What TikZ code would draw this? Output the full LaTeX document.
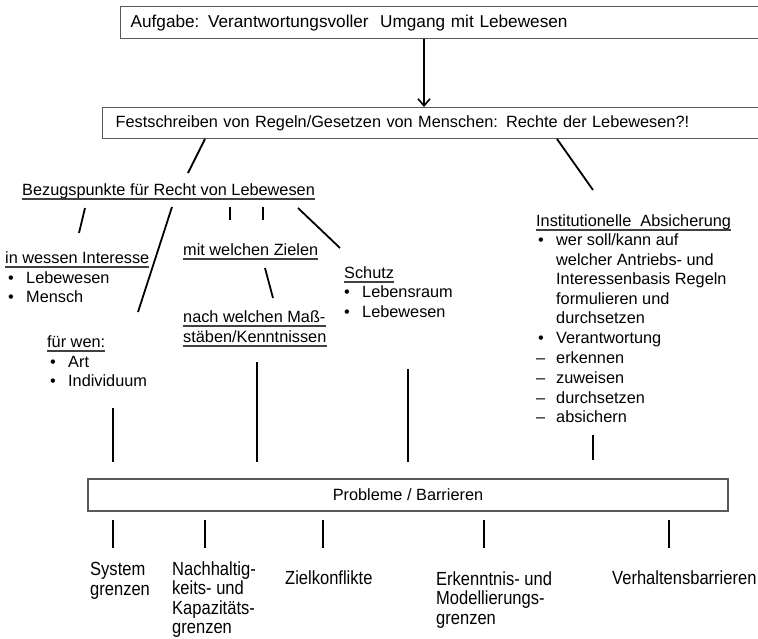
\documentclass[tikz,border=0pt]{standalone}
\usepackage{fontspec}
\setmainfont{Liberation Sans}
\newfontfamily\narrowfont{Liberation Sans}[FakeStretch=0.87]
\usetikzlibrary{arrows.meta}
\tikzset{
  txt/.style={anchor=base west, inner sep=0pt, font=\fontsize{16.3}{19.5}\selectfont},
  btxt/.style={anchor=base west, inner sep=0pt, font=\narrowfont\fontsize{19}{20}\selectfont},
  boxn/.style={draw=black!65, line width=1.3pt, rectangle, inner ysep=0pt, font=\fontsize{16.3}{19.5}\selectfont},
  conn/.style={line width=1.8pt, black},
  uln/.style={line width=1.1pt, black!75},
  arr/.style={line width=1.8pt, black, -{Straight Barb[length=7pt,width=12pt,line width=1.6pt]}},
}
\begin{document}
\begin{tikzpicture}[x=1pt,y=-1pt]
\useasboundingbox (0,0) rectangle (758,638);
\clip (0,0) rectangle (758,638);
\fill[white] (0,0) rectangle (758,638);

% boxes
\node[boxn, anchor=north west, minimum height=32pt, text width=630pt, inner xsep=10pt, align=left, font=\fontsize{17.2}{20}\selectfont] (top) at (120,6) {Aufgabe: Verantwortungsvoller\ \ Umgang mit Lebewesen};
\node[boxn, anchor=north west, minimum height=31pt, text width=640pt, inner xsep=13pt, align=left] (rules) at (102,107) {Festschreiben von Regeln/Gesetzen von Menschen: Rechte der Lebewesen?!};
\node[boxn, minimum width=640pt, minimum height=32pt] (prob) at (408,495) {Probleme / Barrieren};

\coordinate (ax) at (424,0);
\draw[arr] (top.south -| ax) -- (rules.north -| ax);

% Bezugspunkte
\node[txt] (bez) at (22,195.5) {Bezugspunkte für Recht von Lebewesen};

% in wessen Interesse
\node[txt] (iwi) at (5,263.5) {in wessen Interesse};
\node[txt] (iwi1b) at (8,283.5) {•};
\node[txt] (iwi1) at (26,283.5) {Lebewesen};
\node[txt] (iwi2b) at (8,302.5) {•};
\node[txt] (iwi2) at (26,302.5) {Mensch};

% für wen
\node[txt] (fw) at (47,347.5) {für wen:};
\node[txt] (fw1b) at (50,367.5) {•};
\node[txt] (fw1) at (68,367.5) {Art};
\node[txt] (fw2b) at (50,386.5) {•};
\node[txt] (fw2) at (68,386.5) {Individuum};

% Ziele / Maßstäbe
\node[txt] (mwz) at (183,255.5) {mit welchen Zielen};
\node[txt] (nwm1) at (183,322.5) {nach welchen Maß-};
\node[txt] (nwm2) at (183,342.5) {stäben/Kenntnissen};

% Schutz
\node[txt] (sch) at (344,278.5) {Schutz};
\node[txt] (sch1b) at (344,297.5) {•};
\node[txt] (sch1) at (362,297.5) {Lebensraum};
\node[txt] (sch2b) at (344,317.5) {•};
\node[txt] (sch2) at (362,317.5) {Lebewesen};

% Institutionelle Absicherung
\node[txt] (ins) at (536,226.5) {Institutionelle\ \ Absicherung};
\node[txt] (insb1) at (538,245.5) {•};
\node[txt] (ins1) at (556,245.5) {wer soll/kann auf};
\node[txt] (ins2) at (556,265.5) {welcher Antriebs- und};
\node[txt] (ins3) at (556,284.5) {Interessenbasis Regeln};
\node[txt] (ins4) at (556,304.5) {formulieren und};
\node[txt] (ins5) at (556,323.5) {durchsetzen};
\node[txt] (insb6) at (538,343.5) {•};
\node[txt] (ins6) at (556,343.5) {Verantwortung};
\node[txt] (insd7) at (536,363.5) {–};
\node[txt] (ins7) at (556,363.5) {erkennen};
\node[txt] (insd8) at (536,383.5) {–};
\node[txt] (ins8) at (556,383.5) {zuweisen};
\node[txt] (insd9) at (536,403.5) {–};
\node[txt] (ins9) at (556,403.5) {durchsetzen};
\node[txt] (insd10) at (536,422.5) {–};
\node[txt] (ins10) at (556,422.5) {absichern};

% underlines
\foreach \n in {bez,iwi,fw,mwz,nwm1,nwm2,sch,ins}
  \draw[uln] ([yshift=-3.5pt]\n.base west) -- ([yshift=-3.5pt]\n.base east);

% bottom labels
\node[btxt] (b1a) at (90,575.5) {System};
\node[btxt] (b1b) at (90,595) {grenzen};
\node[btxt] (b2a) at (172,575) {Nachhaltig-};
\node[btxt] (b2b) at (172,594.5) {keits- und};
\node[btxt] (b2c) at (172,614) {Kapazitäts-};
\node[btxt] (b2d) at (172,633) {grenzen};
\node[btxt] (b3) at (285,584) {Zielkonflikte};
\node[btxt] (b4a) at (436,585) {Erkenntnis- und};
\node[btxt] (b4b) at (436,604.5) {Modellierungs-};
\node[btxt] (b4c) at (436,624) {grenzen};
\node[btxt] (b5) at (612,584) {Verhaltensbarrieren};

% connector end points
\coordinate (r1s) at (205,139); \coordinate (r1e) at (188,173);
\coordinate (r2s) at (557,139); \coordinate (r2e) at (593,190);
\coordinate (z1s) at (85,208);  \coordinate (z1e) at (79,233);
\coordinate (z2s) at (172,207); \coordinate (z2e) at (138,312);
\coordinate (z3s) at (230,207); \coordinate (z3e) at (230,220);
\coordinate (z4s) at (263,207); \coordinate (z4e) at (263,220);
\coordinate (z5s) at (298,208); \coordinate (z5e) at (340,248);
\coordinate (m1s) at (265,268); \coordinate (m1e) at (273,298);
\coordinate (p1s) at (113,408); \coordinate (p1e) at (113,462);
\coordinate (p2s) at (257,362); \coordinate (p2e) at (257,462);
\coordinate (p3s) at (408,369); \coordinate (p3e) at (408,462);
\coordinate (p4s) at (593,435); \coordinate (p4e) at (593,460);
\coordinate (t1s) at (113,520); \coordinate (t1e) at (113,548);
\coordinate (t2s) at (205,520); \coordinate (t2e) at (205,548);
\coordinate (t3s) at (323,520); \coordinate (t3e) at (323,548);
\coordinate (t4s) at (484,520); \coordinate (t4e) at (484,548);
\coordinate (t5s) at (669,520); \coordinate (t5e) at (669,548);

\foreach \c in {r1,r2,z1,z2,z3,z4,z5,m1,p1,p2,p3,p4,t1,t2,t3,t4,t5}
  \draw[conn] (\c s) -- (\c e);
\end{tikzpicture}
\end{document}
